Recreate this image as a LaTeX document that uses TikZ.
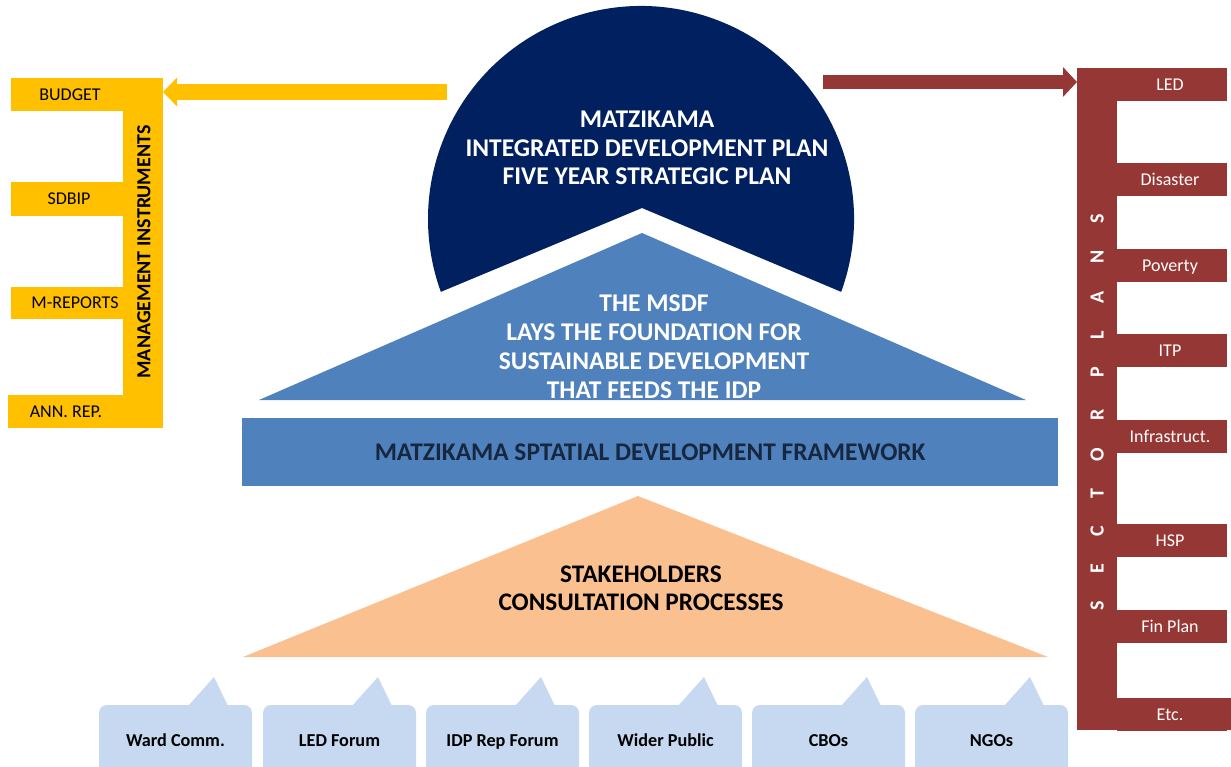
\documentclass[tikz,border=0pt]{standalone}
\usepackage{fontspec}
\setmainfont{Carlito}
\usetikzlibrary{arrows.meta,calc,positioning}
\definecolor{mgmtyellow}{HTML}{FFC000}
\definecolor{sectorred}{HTML}{953735}
\definecolor{idpnavy}{HTML}{002060}
\definecolor{msdfblue}{HTML}{4F81BD}
\definecolor{stakeorange}{HTML}{FAC090}
\definecolor{forumblue}{HTML}{C6D9F1}
\definecolor{framenavy}{HTML}{17273F}
\tikzset{
  barlabel/.style={anchor=base,inner sep=0pt,font=\fontsize{18}{21}\selectfont},
  bigtext/.style={align=center,inner sep=0pt,font=\bfseries\fontsize{25.5}{28.5}\selectfont},
  forumlabel/.style={anchor=base,inner sep=0pt,font=\bfseries\fontsize{18.2}{21}\selectfont},
  blockarrow/.style={line width=#1}
}

\begin{document}
\begin{tikzpicture}[x=1pt,y=1pt,line join=miter]
  \useasboundingbox (0,0) rectangle (1231,-766);
  \clip (0,0) rectangle (1231,-766);

  % management instruments bracket
  \fill[mgmtyellow] (11,-78) rectangle (163,-111);
  \fill[mgmtyellow] (123,-78) rectangle (163,-428);
  \fill[mgmtyellow] (11,-182) rectangle (123,-216);
  \fill[mgmtyellow] (11,-287) rectangle (123,-319);
  \fill[mgmtyellow] (8,-395) rectangle (163,-428);
  \node[barlabel] (budget) at (70,-100) {BUDGET};
  \node[barlabel] (sdbip) at (69,-204.5) {SDBIP};
  \node[barlabel] (mreports) at (75,-308.5) {M-REPORTS};
  \node[barlabel] (annrep) at (66,-417) {ANN. REP.};
  \node[rotate=90,inner sep=0pt,font=\bfseries\fontsize{20}{24}\selectfont]
    (mgmt) at (144,-252) {MANAGEMENT INSTRUMENTS};

  % sector plans bracket
  \fill[sectorred] (1077,-68) rectangle (1117,-730);
  \foreach \yt/\lab [count=\i] in {68/LED,163/Disaster,249/Poverty,334/ITP,
      420/Infrastruct.,524/HSP,610/Fin Plan,698/Etc.}{
    \fill[sectorred] (1117,-\yt) rectangle (1227,-\yt-33);
    \node[barlabel,text=white] (plan\i) at (1170,-\yt-22) {\lab};
  }
  \fill[sectorred] (1227,-698) rectangle (1231,-730);
  \node[rotate=90,inner sep=0pt,text=white,
    font=\bfseries\fontsize{20}{24}\selectfont\addfontfeature{LetterSpace=137}]
    (sector) at (1097,-412) {SECTOR PLANS};

  % integrated development plan
  \coordinate (idpc) at (641,-219);
  \fill[idpnavy] ($(idpc)+(-20:213)$) arc[start angle=-20,end angle=200,radius=213]
    -- (642,-208) -- cycle;
  \node[bigtext,text=white] (idp) at (647,-148)
    {MATZIKAMA\\INTEGRATED DEVELOPMENT PLAN\\FIVE YEAR STRATEGIC PLAN};

  % arrows out of the plan
  \coordinate (idpleft) at (447,-92);
  \coordinate (budgettip) at (163,-92);
  \coordinate (idpright) at (823,-82);
  \coordinate (sectortip) at (1077,-82);
  \draw[mgmtyellow,blockarrow=16pt,-{Triangle[length=14pt,width=28pt]}]
    (idpleft) -- (budgettip);
  \draw[sectorred,blockarrow=14pt,-{Triangle[length=14pt,width=29pt]}]
    (idpright) -- (sectortip);

  % msdf triangle and framework
  \fill[msdfblue] (259,-400) -- (642,-233) -- (1026,-400) -- cycle;
  \node[bigtext,text=white,font=\bfseries\fontsize{25.5}{29}\selectfont] (msdftext) at (654,-347)
    {THE MSDF\\LAYS THE FOUNDATION FOR\\SUSTAINABLE DEVELOPMENT\\THAT FEEDS THE IDP};
  \node[fill=msdfblue,text=framenavy,anchor=north west,inner sep=0pt,
    minimum width=816pt,minimum height=68pt,font=\bfseries\fontsize{25.4}{28}\selectfont]
    (msdf) at (242,-418) {MATZIKAMA SPTATIAL DEVELOPMENT FRAMEWORK};

  % stakeholders
  \fill[stakeorange] (243,-657) -- (638,-496) -- (1048,-657) -- cycle;
  \node[bigtext,font=\bfseries\fontsize{25.3}{28}\selectfont] (stake) at (641,-588)
    {STAKEHOLDERS\\CONSULTATION PROCESSES};

  % forums
  \foreach \x/\lab [count=\i] in {99/Ward Comm.,263/LED Forum,426/IDP Rep Forum,
      589/Wider Public,752/CBOs,915/NGOs}{
    \fill[forumblue,rounded corners=8pt] (\x,-705) rectangle (\x+153,-800);
    \fill[forumblue] (\x+89,-706) -- (\x+115,-677) -- (\x+129,-706) -- cycle;
    \node[forumlabel] (forum\i) at (\x+76.5,-746) {\lab};
  }
\end{tikzpicture}
\end{document}
